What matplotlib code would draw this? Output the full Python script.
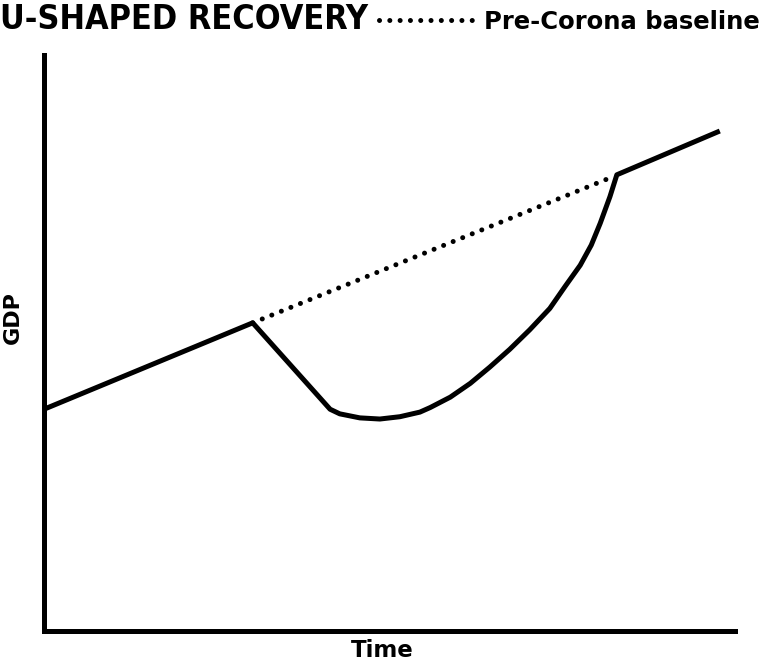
import matplotlib.pyplot as plt
from matplotlib.lines import Line2D
from matplotlib import font_manager as fm

# GDP path (x: time 0-100, y: GDP 0-100)
time = [0, 30.2, 41.4, 42.8, 45.7, 48.6, 51.5, 54.4, 55.9, 58.8, 61.7, 64.5, 67.4,
        70.3, 73.2, 75.4, 77.6, 79.2, 80.5, 81.9, 82.9, 97.8]
gdp = [38.5, 53.5, 38.5, 37.7, 37.0, 36.8, 37.2, 38.0, 38.8, 40.6, 43.0, 45.8, 48.9,
       52.3, 56.0, 59.8, 63.5, 67.0, 70.8, 75.4, 79.2, 86.8]

# pre-corona trend
base_time = [30.2, 82.2]
base_gdp = [53.5, 78.8]

title = 'U-SHAPED RECOVERY'
base_label = 'Pre-Corona baseline'

# look for a condensed bold face for the title
cond = [f for f in fm.fontManager.ttflist
        if ('Narrow' in f.name or 'Condensed' in f.name or 'condensed' in str(f.stretch))]
cond_bold = [f for f in cond if str(f.weight) in ('bold', '700', '600', 'semibold', 'demibold')]
pick = (cond_bold or cond)
if pick:
    title_prop = fm.FontProperties(fname=pick[0].fname, weight='bold')
else:
    title_prop = fm.FontProperties(family='DejaVu Sans', weight='bold')

fig = plt.figure(figsize=(7.71, 6.64), dpi=100)
ax = fig.add_axes([0.0571, 0.0497, 0.8962, 0.8675])

lw = 3.6
ax.plot(time, gdp, color='black', lw=lw, solid_joinstyle='round', solid_capstyle='butt')
ax.plot(base_time, base_gdp, color='black', lw=lw,
        linestyle=(0, (0.01, 2.05)), dash_capstyle='round')

ax.set_xlim(0, 100)
ax.set_ylim(0, 100)
ax.set_xticks([])
ax.set_yticks([])
for s in ['top', 'right']:
    ax.spines[s].set_visible(False)
for s in ['left', 'bottom']:
    ax.spines[s].set_linewidth(lw)
    ax.spines[s].set_capstyle('projecting')

ax.set_xlabel('Time', fontsize=16.5, fontweight='bold', family='DejaVu Sans')
ax.xaxis.set_label_coords(0.489, -0.046)
ax.xaxis.label.set_va('baseline')
ax.set_ylabel('GDP', fontsize=16, fontweight='bold', family='DejaVu Sans')
ax.yaxis.set_label_coords(-0.06, 0.545)
ax.yaxis.label.set_va('top')

# title, sized so it spans the same width as in the reference
t = fig.text(0.0, 0.9955, title, fontproperties=title_prop, fontsize=30, va='top', ha='left')
r = fig.canvas.get_renderer()
w = t.get_window_extent(r).width
t.set_fontsize(30 * 367.0 / w)

handle = Line2D([], [], color='black', lw=lw, linestyle=(0, (0.01, 2.05)), dash_capstyle='round')
fig.legend([handle], [base_label], loc='center left', bbox_to_anchor=(0.492, 0.967),
           frameon=False, handlelength=3.8, handletextpad=0.5, borderpad=0, borderaxespad=0,
           prop={'family': 'DejaVu Sans', 'weight': 'bold', 'size': 17.5})

fig.savefig('out.png', dpi=100)
